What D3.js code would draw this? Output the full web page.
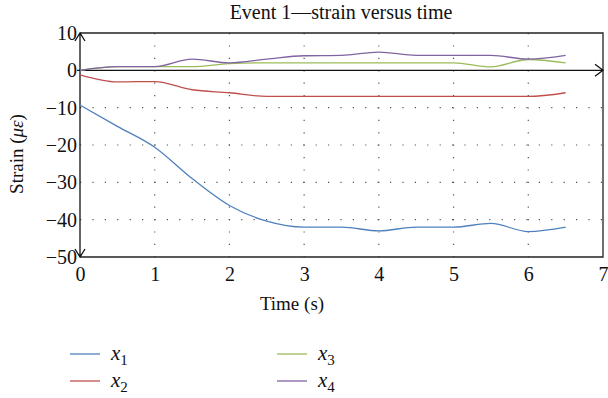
<!DOCTYPE html>
<html>
<head>
<meta charset="utf-8">
<script src="https://cdn.jsdelivr.net/npm/d3@7"></script>
<style>
  body { margin: 0; background: #fff; }
  svg { display: block; }
  text { font-family: "Liberation Serif", "DejaVu Serif", serif; fill: #111; }
</style>
</head>
<body>
<svg width="608" height="398"></svg>
<script>
// time samples (s) and strain of each channel
var times = [0, 0.5, 1, 1.5, 2, 2.5, 3, 3.5, 4, 4.5, 5, 5.5, 6, 6.5];
var x1 = [-9.3, -15, -20.6, -29, -36.2, -40.4, -42, -42, -43, -42, -42, -41, -43.2, -42];
var x2 = [-1.2, -3.1, -3, -5.2, -6, -7, -7, -7, -7, -7, -7, -7, -7, -6];
var x3 = [0, 1, 1, 1, 1.8, 2, 2, 2, 2, 2, 2, 0.9, 2.9, 2];
var x4 = [0, 1, 1, 3, 2, 3, 3.9, 4, 4.9, 4, 4, 4, 3, 4];

var seriesNames = ["x1", "x2", "x3", "x4"];
var seriesValues = [x1, x2, x3, x4];
var colors = ["#4f81bd", "#c0504d", "#9bbb59", "#8064a2"];

var xTicks = [0, 1, 2, 3, 4, 5, 6, 7];
var yTicks = [10, 0, -10, -20, -30, -40, -50];
var yGrid = [-10, -20, -30, -40];
var xGrid = [1, 2, 3, 4, 5, 6];

var svg = d3.select("svg");

var x = d3.scaleLinear().domain([0, 7]).range([80, 603]);
var y = d3.scaleLinear().domain([-50, 10]).range([257, 33]);

// title
svg.append("text")
    .attr("x", 341).attr("y", 19)
    .attr("text-anchor", "middle")
    .style("font-size", "20px")
    .text("Event 1\u2014strain versus time");

// dotted grid
svg.append("g").selectAll("line")
    .data(yGrid).enter().append("line")
    .attr("x1", x(0)).attr("x2", x(7))
    .attr("y1", function(d) { return y(d); })
    .attr("y2", function(d) { return y(d); })
    .attr("stroke", "#555").attr("stroke-width", 1.2)
    .attr("stroke-dasharray", "1.2,11.2");

svg.append("g").selectAll("line")
    .data(xGrid).enter().append("line")
    .attr("x1", function(d) { return x(d); })
    .attr("x2", function(d) { return x(d); })
    .attr("y1", y(10)).attr("y2", y(-50))
    .attr("stroke", "#555").attr("stroke-width", 1.2)
    .attr("stroke-dasharray", "1.2,11.2");

// frame
svg.append("path")
    .attr("d", "M" + x(0) + "," + y(10) + "H" + x(7) + "V" + y(-50) + "H" + x(0))
    .attr("fill", "none").attr("stroke", "#222").attr("stroke-width", 1.3);

// axes with tick labels
var yAxis = d3.axisLeft(y).tickValues(yTicks).tickSize(0).tickPadding(3)
    .tickFormat(function(d) { return d < 0 ? "\u2212" + Math.abs(d) : d; });
var gy = svg.append("g").attr("transform", "translate(" + x(0) + ",0)").call(yAxis);
gy.select(".domain").remove();
gy.selectAll("text").style("font-size", "20px").style("font-family", "Liberation Serif").attr("fill", "#111");

var xAxis = d3.axisBottom(x).tickValues(xTicks).tickSize(0).tickPadding(10).tickFormat(d3.format("d"));
var gx = svg.append("g").attr("transform", "translate(0," + y(-50) + ")").call(xAxis);
gx.select(".domain").remove();
gx.selectAll("text").style("font-size", "20px").style("font-family", "Liberation Serif").attr("fill", "#111");

// y axis line with arrows on both ends
var ax = x(0);
svg.append("path")
    .attr("d", "M" + ax + "," + y(-50) + "V" + y(10) +
        "M" + (ax - 5) + "," + (y(10) + 8) + "L" + ax + "," + y(10) + "L" + (ax + 5) + "," + (y(10) + 8) +
        "M" + (ax - 5) + "," + (y(-50) - 8) + "L" + ax + "," + y(-50) + "L" + (ax + 5) + "," + (y(-50) - 8))
    .attr("fill", "none").attr("stroke", "#111").attr("stroke-width", 1.3);

// x axis (zero line) with arrow
var ay = y(0);
svg.append("path")
    .attr("d", "M" + (ax - 3) + "," + ay + "H" + x(7) +
        "M" + (x(7) - 8) + "," + (ay - 6) + "L" + x(7) + "," + ay + "L" + (x(7) - 8) + "," + (ay + 6))
    .attr("fill", "none").attr("stroke", "#111").attr("stroke-width", 1.3);

// curves
var line = d3.line()
    .curve(d3.curveMonotoneX)
    .x(function(d, i) { return x(times[i]); })
    .y(function(d) { return y(d); });

svg.append("g").selectAll("path")
    .data(seriesValues).enter().append("path")
    .attr("d", line)
    .attr("fill", "none")
    .attr("stroke", function(d, i) { return colors[i]; })
    .attr("stroke-width", 1.3);

// axis titles
var ylab = svg.append("text")
    .attr("transform", "translate(23,154) rotate(-90)")
    .attr("text-anchor", "middle")
    .style("font-size", "19px");
ylab.append("tspan").text("Strain (");
ylab.append("tspan").style("font-style", "italic").text("\u03bc\u03b5");
ylab.append("tspan").text(")");

svg.append("text")
    .attr("x", 292).attr("y", 310)
    .attr("text-anchor", "middle")
    .style("font-size", "19px")
    .text("Time (s)");

// legend, two columns
var legendPos = [[70, 354], [70, 381], [277, 354], [277, 381]];
var leg = svg.append("g").selectAll("g")
    .data(seriesNames).enter().append("g")
    .attr("transform", function(d, i) { return "translate(" + legendPos[i][0] + "," + legendPos[i][1] + ")"; });

leg.append("line")
    .attr("x1", 0).attr("x2", 30)
    .attr("stroke", function(d, i) { return colors[i]; })
    .attr("stroke-width", 1.3);

var lt = leg.append("text")
    .attr("x", 41).attr("y", 6)
    .style("font-size", "21px");
lt.append("tspan").style("font-style", "italic").text("x");
lt.append("tspan").attr("dy", 5).style("font-size", "15px").text(function(d) { return d.slice(1); });
</script>
</body>
</html>
